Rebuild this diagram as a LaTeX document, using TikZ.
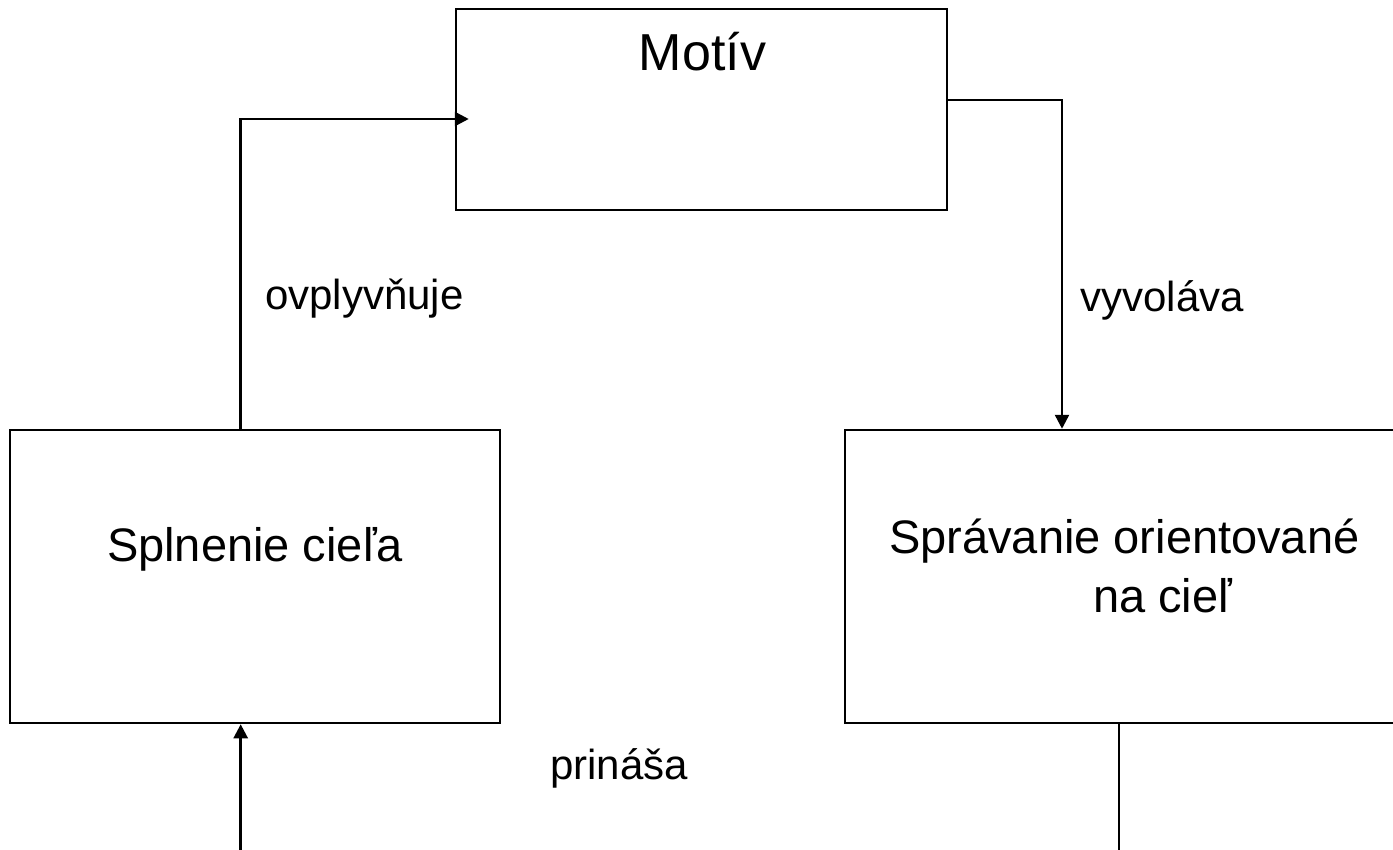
\documentclass[tikz,border=0pt]{standalone}
\usepackage{fontspec}
\setmainfont{Liberation Sans}
\usetikzlibrary{arrows.meta}

\tikzset{
  blok/.style={draw, line width=2.5pt, rectangle, inner sep=0pt},
  spoj/.style={line width=2.5pt, -{Triangle[length=14pt,width=14pt]}},
  ciara/.style={line width=2.5pt},
  velky/.style={font=\fontsize{52}{62}\selectfont, inner sep=0pt},
  stredny/.style={font=\fontsize{47}{56}\selectfont, inner sep=0pt},
  popis/.style={font=\fontsize{42}{50}\selectfont, inner sep=0pt}
}

\begin{document}
\begin{tikzpicture}[x=1pt,y=-1pt]
\clip (0,0) rectangle (1393,850);
% boxes
\node[blok, minimum width=491pt, minimum height=201pt] (motiv) at (701.5,109.5) {};
\node[blok, minimum width=490pt, minimum height=293pt] (splnenie) at (255,576.5) {};
\node[blok, minimum width=563pt, minimum height=293pt] (sprav) at (1126.5,576.5) {};
% texts
\node[velky, anchor=base] (motivtxt) at (702.5,71) {Motív};
\node[stredny, anchor=base] (splnenietxt) at (255,561) {Splnenie cieľa};
\node[stredny, anchor=base west] (spravtxta) at (889,553) {Správanie orientované};
\node[stredny, anchor=base west] (spravtxtb) at (1093,612) {na cieľ};
\node[popis, anchor=base west] (ovpl) at (265,310) {ovplyvňuje};
\node[popis, anchor=base east] (vyvol) at (1244,312) {vyvoláva};
\node[popis, anchor=base west] (prin) at (550,779) {prináša};
% free ends at the bottom
\coordinate (dolel) at (240.7,860);
\coordinate (dolpr) at (1119,860);
% connectors
\draw[spoj, shorten >=-14pt] ([xshift=-14.3pt]splnenie.north) |- ([yshift=-9.5pt]motiv.west);
\draw[spoj] ([yshift=9.5pt]motiv.east) -| ([xshift=-64.5pt]sprav.north);
\draw[spoj] (dolel) -- ([xshift=-14.3pt]splnenie.south);
\draw[ciara] ([xshift=-7.5pt]sprav.south) -- (dolpr);
\end{tikzpicture}
\end{document}
